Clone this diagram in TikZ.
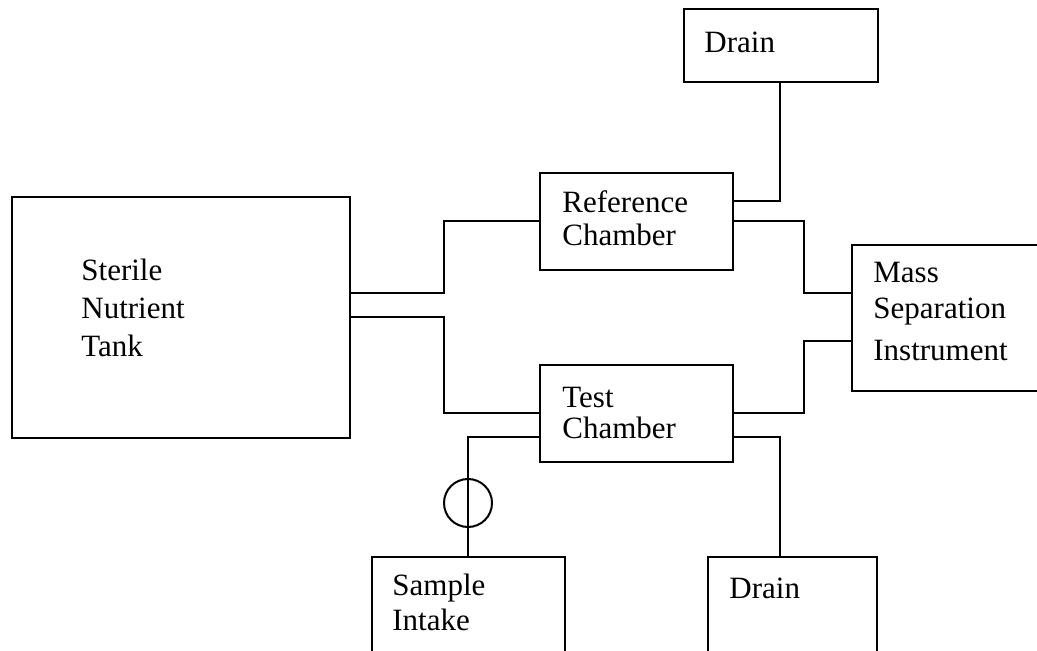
\documentclass[tikz,border=0pt]{standalone}
\usepackage{fontspec}
\setmainfont{Liberation Serif}
\usetikzlibrary{fit}
\tikzset{
  box/.style={draw, line width=1pt, rectangle, inner sep=0pt},
  pipe/.style={draw, line width=1pt},
  lbl/.style={anchor=base west, inner sep=0pt, font=\fontsize{15.5}{19}\selectfont},
  valvestyle/.style={draw, line width=1pt, circle, inner sep=0pt, minimum size=24pt}
}
\begin{document}
\begin{tikzpicture}[x=0.5pt, y=-0.5pt]
\useasboundingbox (0,0) rectangle (1037,651);
\clip (0,0) rectangle (1037,651);
% boxes
\node[box, fit={(12,197)(350,438)}] (tank) {};
\node[box, fit={(540,173)(733,270)}] (ref) {};
\node[box, fit={(540,365)(733,462)}] (test) {};
\node[box, fit={(684,9)(878,82)}] (drainT) {};
\node[box, fit={(852,245)(1060,391)}] (mass) {};
\node[box, fit={(372,557)(565,670)}] (intake) {};
\node[box, fit={(708,557)(877,670)}] (drainB) {};
% labels
\node[lbl] (t1) at (81,281) {Sterile};
\node[lbl] (t2) at (81,319) {Nutrient};
\node[lbl] (t3) at (81,357) {Tank};
\node[lbl] (r1) at (562,213) {Reference};
\node[lbl] (r2) at (562,246) {Chamber};
\node[lbl] (c1) at (562,408) {Test};
\node[lbl] (c2) at (562,438) {Chamber};
\node[lbl] (d1) at (704,53) {Drain};
\node[lbl] (m1) at (873,283) {Mass};
\node[lbl] (m2) at (873,319) {Separation};
\node[lbl] (m3) at (873,361) {Instrument};
\node[lbl] (s1) at (392,595) {Sample};
\node[lbl] (s2) at (392,630) {Intake};
\node[lbl] (d2) at (729,598) {Drain};
% connectors
\draw[pipe] (tank.east |- 0,293) -| (444,221) -- (ref.west |- 0,221);
\draw[pipe] (tank.east |- 0,317) -| (444,413) -- (test.west |- 0,413);
\draw[pipe] (ref.east |- 0,201) -| (drainT.south -| 780,0);
\draw[pipe] (ref.east |- 0,221) -| (804,293) -- (mass.west |- 0,293);
\draw[pipe] (test.east |- 0,413) -| (804,341) -- (mass.west |- 0,341);
\draw[pipe] (test.east |- 0,437) -| (drainB.north -| 780,0);
\draw[pipe] (test.west |- 0,437) -| (intake.north -| 468,0);
\node[valvestyle] (valve) at (468,503) {};
\end{tikzpicture}
\end{document}
